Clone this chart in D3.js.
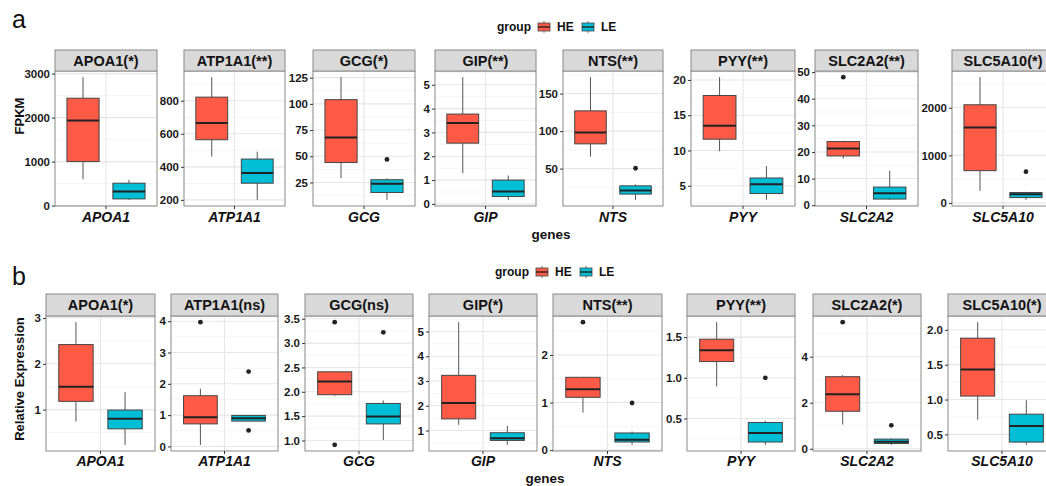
<!DOCTYPE html>
<html>
<head>
<meta charset="utf-8">
<script src="https://cdn.jsdelivr.net/npm/d3@7"></script>
<style>
  body { margin: 0; background: #fff; }
  svg { display: block; font-family: "Liberation Sans", Arial, sans-serif; }
</style>
</head>
<body>
<svg id="chart"></svg>
<script>
// ---- data ----
const genes = ['APOA1', 'ATP1A1', 'GCG', 'GIP', 'NTS', 'PYY', 'SLC2A2', 'SLC5A10'];
const groups = ['HE', 'LE'];

const fpkmStrips = ['APOA1(*)', 'ATP1A1(**)', 'GCG(*)', 'GIP(**)', 'NTS(**)', 'PYY(**)', 'SLC2A2(**)', 'SLC5A10(*)'];
const relStrips = ['APOA1(*)', 'ATP1A1(ns)', 'GCG(ns)', 'GIP(*)', 'NTS(**)', 'PYY(**)', 'SLC2A2(*)', 'SLC5A10(*)'];

// box stats: [lower whisker, Q1, median, Q3, upper whisker]
const fpkmHE = [
  [600, 1000, 1932, 2441, 2920],
  [462, 564, 665, 822, 943],
  [29, 44, 68, 104, 125.5],
  [1.29, 2.55, 3.40, 3.77, 5.32],
  [66, 83, 98, 127, 172],
  [9.9, 11.6, 13.5, 17.8, 20.4],
  [17.5, 18.5, 21.3, 23.9, 24.2],
  [254, 678, 1584, 2063, 2644]
];
const fpkmLE = [
  [130, 152, 318, 509, 584],
  [200, 301, 362, 447, 491],
  [8.4, 15.4, 23.8, 27.6, 29],
  [0.17, 0.31, 0.52, 1.0, 1.19],
  [8.3, 16, 20.7, 27, 29],
  [3.0, 3.9, 5.2, 6.1, 7.8],
  [2.0, 2.3, 4.5, 6.8, 13.0],
  [64, 112, 184, 218, 233]
];
const fpkmOutHE = [[], [], [], [], [], [], [48.1], []];
const fpkmOutLE = [[], [], [47], [], [50.5], [], [], [657]];
const fpkmTicks = [
  ['0', '1000', '2000', '3000'],
  ['200', '400', '600', '800'],
  ['25', '50', '75', '100', '125'],
  ['0', '1', '2', '3', '4', '5'],
  ['50', '100', '150'],
  ['5', '10', '15', '20'],
  ['0', '10', '20', '30', '40', '50'],
  ['0', '1000', '2000']
];

const relHE = [
  [0.74, 1.18, 1.50, 2.42, 2.91],
  [0.05, 0.72, 0.93, 1.62, 1.84],
  [1.92, 1.94, 2.21, 2.41, 2.42],
  [1.23, 1.47, 2.11, 3.23, 5.38],
  [0.79, 1.11, 1.28, 1.53, 1.54],
  [0.895, 1.20, 1.34, 1.475, 1.685],
  [1.05, 1.63, 2.37, 3.13, 3.2],
  [0.71, 1.05, 1.43, 1.88, 2.11]
];
const relLE = [
  [0.23, 0.58, 0.80, 0.99, 1.38],
  [0.81, 0.81, 0.90, 0.99, 0.99],
  [1.01, 1.34, 1.49, 1.76, 1.82],
  [0.42, 0.60, 0.69, 0.91, 1.19],
  [0.11, 0.17, 0.22, 0.36, 0.39],
  [0.175, 0.21, 0.32, 0.45, 0.47],
  [0.17, 0.23, 0.31, 0.42, 0.46],
  [0.35, 0.39, 0.62, 0.79, 0.99]
];
const relOutHE = [[], [3.97], [3.43, 0.91], [], [2.69], [], [5.5], []];
const relOutLE = [[], [2.39, 0.51], [3.22], [], [0.99], [1.0], [1.02], []];
const relTicks = [
  ['1', '2', '3'],
  ['0', '1', '2', '3', '4'],
  ['1.0', '1.5', '2.0', '2.5', '3.0', '3.5'],
  ['1', '2', '3', '4', '5'],
  ['0', '1', '2'],
  ['0.5', '1.0', '1.5'],
  ['0', '2', '4'],
  ['0.5', '1.0', '1.5', '2.0']
];

// ---- layout ----
const W = 1046, H = 486;
const colors = { HE: '#FF5A45', LE: '#00BED6' };
const rows = [
  {
    letter: 'a', letterY: 28, yTitle: 'FPKM', yTitleY: 116,
    stripTop: 50, top: 71, bottom: 206,
    lefts: [55, 184, 313, 435, 563, 691, 815, 952],
    rights: [157, 285, 415, 536, 663, 795, 918, 1054],
    geneY: 222, titleX: 551, titleY: 239, legendY: 27,
    legendX: 497,
    strips: fpkmStrips, he: fpkmHE, le: fpkmLE, outHE: fpkmOutHE, outLE: fpkmOutLE, ticks: fpkmTicks
  },
  {
    letter: 'b', letterY: 285, yTitle: 'Relative Expression', yTitleY: 379,
    stripTop: 294, top: 316, bottom: 451,
    lefts: [46, 171, 305, 429, 553, 687, 813, 948],
    rights: [155, 278, 413, 537, 662, 795, 921, 1056],
    geneY: 466, titleX: 545, titleY: 483, legendY: 272,
    legendX: 495,
    strips: relStrips, he: relHE, le: relLE, outHE: relOutHE, outLE: relOutLE, ticks: relTicks
  }
];

const svg = d3.select('#chart').attr('width', W).attr('height', H);
svg.append('rect').attr('width', W).attr('height', H).attr('fill', '#fff');

rows.forEach(row => {
  // panel letter
  svg.append('text')
    .attr('x', 12).attr('y', row.letterY)
    .attr('font-size', 25).attr('fill', '#111')
    .text(row.letter);

  // y title
  svg.append('text')
    .attr('transform', `translate(24, ${row.yTitleY}) rotate(-90)`)
    .attr('text-anchor', 'middle')
    .attr('font-size', 13).attr('font-weight', 'bold').attr('fill', '#111')
    .text(row.yTitle);

  // x title
  svg.append('text')
    .attr('x', row.titleX).attr('y', row.titleY)
    .attr('text-anchor', 'middle')
    .attr('font-size', 13.5).attr('font-weight', 'bold').attr('fill', '#111')
    .text('genes');

  // legend
  const lg = svg.append('g').attr('transform', `translate(${row.legendX}, ${row.legendY})`);
  lg.append('text').attr('x', 0).attr('dy', '0.35em')
    .attr('font-size', 12).attr('font-weight', 'bold').attr('fill', '#111')
    .text('group');
  const keyX = [41, 85];
  groups.forEach((g, i) => {
    const k = lg.append('g').attr('transform', `translate(${keyX[i]}, 0)`);
    k.append('line').attr('x1', 6).attr('x2', 6).attr('y1', -6).attr('y2', 6)
      .attr('stroke', '#555').attr('stroke-width', 0.8);
    k.append('rect').attr('x', 0).attr('y', -4).attr('width', 12).attr('height', 8)
      .attr('fill', colors[g]).attr('stroke', '#444').attr('stroke-width', 0.8);
    k.append('line').attr('x1', 0).attr('x2', 12).attr('y1', 0).attr('y2', 0)
      .attr('stroke', '#222').attr('stroke-width', 1.4);
    k.append('text').attr('x', 19).attr('dy', '0.35em')
      .attr('font-size', 12).attr('font-weight', 'bold').attr('fill', '#111')
      .text(g);
  });

  genes.forEach((gene, i) => {
    const x0 = row.lefts[i], x1 = row.rights[i];
    const tickVals = row.ticks[i].map(Number);
    const allVals = row.he[i].concat(row.le[i], row.outHE[i], row.outLE[i]);
    const [mn, mx] = d3.extent(allVals);
    const pad = (mx - mn) * 0.05;
    const y = d3.scaleLinear().domain([mn - pad, mx + pad]).range([row.bottom, row.top]);
    const x = d3.scaleBand().domain(groups).range([x0, x1]).paddingInner(0.3).paddingOuter(0.26);
    const cx = (x0 + x1) / 2;

    const g = svg.append('g');

    // background + grid
    g.append('rect').attr('x', x0).attr('y', row.top)
      .attr('width', x1 - x0).attr('height', row.bottom - row.top)
      .attr('fill', '#fff');
    const step = tickVals[1] - tickVals[0];
    const minor = [tickVals[0] - step / 2].concat(tickVals.map(t => t + step / 2))
      .filter(v => v > y.domain()[0] && v < y.domain()[1]);
    g.selectAll('.minor').data(minor).join('line')
      .attr('x1', x0).attr('x2', x1)
      .attr('y1', d => y(d)).attr('y2', d => y(d))
      .attr('stroke', '#F2F2F2').attr('stroke-width', 0.8);
    g.selectAll('.major').data(tickVals).join('line')
      .attr('x1', x0).attr('x2', x1)
      .attr('y1', d => y(d)).attr('y2', d => y(d))
      .attr('stroke', '#E6E6E6').attr('stroke-width', 1.1);
    g.append('line').attr('x1', cx).attr('x2', cx)
      .attr('y1', row.top).attr('y2', row.bottom)
      .attr('stroke', '#E6E6E6').attr('stroke-width', 1.1);

    // boxes
    const sets = [
      { key: 'HE', s: row.he[i], out: row.outHE[i] },
      { key: 'LE', s: row.le[i], out: row.outLE[i] }
    ];
    sets.forEach(d => {
      const bx = x(d.key), bw = x.bandwidth(), mid = bx + bw / 2;
      const [lo, q1, med, q3, hi] = d.s;
      g.append('line').attr('x1', mid).attr('x2', mid)
        .attr('y1', y(hi)).attr('y2', y(q3))
        .attr('stroke', '#555').attr('stroke-width', 1);
      g.append('line').attr('x1', mid).attr('x2', mid)
        .attr('y1', y(q1)).attr('y2', y(lo))
        .attr('stroke', '#555').attr('stroke-width', 1);
      g.append('rect').attr('x', bx).attr('y', y(q3))
        .attr('width', bw).attr('height', Math.max(0.5, y(q1) - y(q3)))
        .attr('fill', colors[d.key]).attr('stroke', '#444').attr('stroke-width', 1);
      g.append('line').attr('x1', bx).attr('x2', bx + bw)
        .attr('y1', y(med)).attr('y2', y(med))
        .attr('stroke', '#222').attr('stroke-width', 2);
      g.selectAll(null).data(d.out).join('circle')
        .attr('cx', mid).attr('cy', v => y(v)).attr('r', 2.4)
        .attr('fill', '#222');
    });

    // panel border
    g.append('rect').attr('x', x0).attr('y', row.top)
      .attr('width', x1 - x0).attr('height', row.bottom - row.top)
      .attr('fill', 'none').attr('stroke', '#8a8a8a').attr('stroke-width', 1);

    // strip
    g.append('rect').attr('x', x0).attr('y', row.stripTop)
      .attr('width', x1 - x0).attr('height', row.top - row.stripTop)
      .attr('fill', '#D9D9D9').attr('stroke', '#8a8a8a').attr('stroke-width', 1);
    g.append('text').attr('x', cx).attr('y', (row.stripTop + row.top) / 2)
      .attr('dy', '0.36em').attr('text-anchor', 'middle')
      .attr('font-size', 14.5).attr('font-weight', 'bold').attr('fill', '#111')
      .text(row.strips[i]);

    // y axis
    const ax = g.append('g').attr('transform', `translate(${x0}, 0)`)
      .call(d3.axisLeft(y).tickValues(tickVals)
        .tickFormat((v, j) => row.ticks[i][j]).tickSize(3).tickPadding(2));
    ax.select('.domain').remove();
    ax.selectAll('line').attr('stroke', '#333');
    ax.selectAll('text').attr('font-size', 11.5).attr('font-weight', 'bold')
      .attr('fill', '#1a1a1a').attr('font-family', '"Liberation Sans", Arial, sans-serif');

    // x tick + gene label
    g.append('line').attr('x1', cx).attr('x2', cx)
      .attr('y1', row.bottom).attr('y2', row.bottom + 3).attr('stroke', '#333');
    g.append('text').attr('x', cx).attr('y', row.geneY)
      .attr('text-anchor', 'middle')
      .attr('font-size', 14).attr('font-weight', 'bold').attr('font-style', 'italic')
      .attr('fill', '#111')
      .text(gene);
  });
});
</script>
</body>
</html>
